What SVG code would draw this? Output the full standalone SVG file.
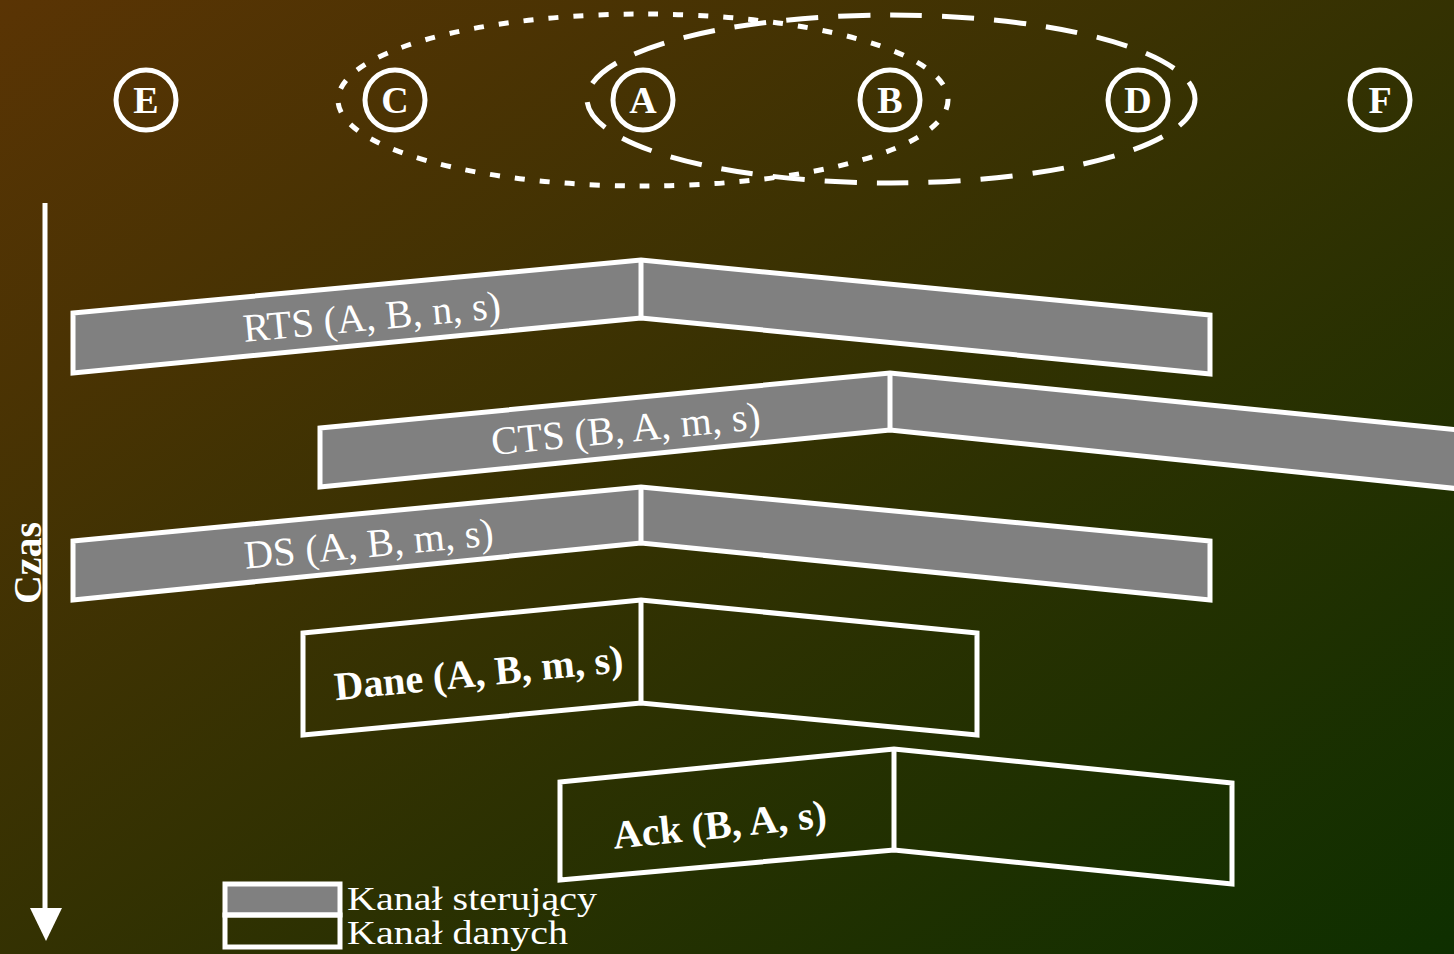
<svg xmlns="http://www.w3.org/2000/svg" width="1454" height="954" viewBox="0 0 1454 954">
  <defs>
    <linearGradient id="bg" x1="0" y1="0" x2="1" y2="1">
      <stop offset="0" stop-color="#5a3404"/>
      <stop offset="1" stop-color="#0e2f00"/>
    </linearGradient>
  </defs>
  <style>
    .node circle { fill: none; stroke: #fff; stroke-width: 5; }
    .node text { font-family: "Liberation Serif", "Times New Roman", serif; font-weight: bold; font-size: 38px; fill: #fff; text-anchor: middle; }
    .range { fill: none; stroke: #fff; stroke-width: 5; }
    .ctrl { fill: #808080; stroke: #fff; stroke-width: 5; stroke-linejoin: miter; }
    .data { fill: none; stroke: #fff; stroke-width: 5; stroke-linejoin: miter; }
    .div { stroke: #fff; stroke-width: 5; }
    .lbl { font-family: "Liberation Serif", "Times New Roman", serif; font-size: 40px; fill: #fff; text-anchor: middle; }
    .lblb { font-family: "Liberation Serif", "Times New Roman", serif; font-weight: bold; font-size: 40px; fill: #fff; text-anchor: middle; }
    .leg { font-family: "Liberation Serif", "Times New Roman", serif; font-size: 34px; fill: #fff; }
  </style>

  <rect width="1454" height="954" fill="url(#bg)"/>

  <!-- transmission ranges -->
  <g id="ranges">
    <ellipse class="range" cx="643" cy="100" rx="305" ry="86" stroke-dasharray="10 15"/>
    <ellipse class="range" cx="891" cy="99" rx="304" ry="84" stroke-dasharray="32 20"/>
  </g>

  <!-- stations -->
  <g id="node-E" class="node"><circle cx="146" cy="100" r="30"/><text x="146" y="113">E</text></g>
  <g id="node-C" class="node"><circle cx="395" cy="100" r="30"/><text x="395" y="113">C</text></g>
  <g id="node-A" class="node"><circle cx="643" cy="100" r="30"/><text x="643" y="113">A</text></g>
  <g id="node-B" class="node"><circle cx="890" cy="100" r="30"/><text x="890" y="113">B</text></g>
  <g id="node-D" class="node"><circle cx="1138" cy="100" r="30"/><text x="1138" y="113">D</text></g>
  <g id="node-F" class="node"><circle cx="1380" cy="100" r="30"/><text x="1380" y="113">F</text></g>

  <!-- time axis -->
  <g id="connectors">
    <line x1="45" y1="203" x2="45" y2="912" stroke="#fff" stroke-width="5"/>
    <polygon points="30,908 62,908 46,941" fill="#fff"/>
  </g>
  <text transform="translate(41,563) rotate(-90)" class="lblb" font-size="36">Czas</text>

  <!-- RTS -->
  <g id="frame-rts">
    <path class="ctrl" d="M73,313 L641,260 L1210,315 L1210,374 L641,318 L73,373 Z"/>
    <line class="div" x1="641" y1="260" x2="641" y2="318"/>
    <text class="lbl" transform="translate(373,330) rotate(-5.3)">RTS (A, B, n, s)</text>
  </g>

  <!-- CTS -->
  <g id="frame-cts">
    <path class="ctrl" d="M320,428 L890,373 L1460,430 L1460,489 L890,430 L320,487 Z"/>
    <line class="div" x1="890" y1="373" x2="890" y2="430"/>
    <text class="lbl" transform="translate(627,442) rotate(-5.5)">CTS (B, A, m, s)</text>
  </g>

  <!-- DS -->
  <g id="frame-ds">
    <path class="ctrl" d="M73,541 L641,487 L1210,541 L1210,600 L641,543 L73,600 Z"/>
    <line class="div" x1="641" y1="487" x2="641" y2="543"/>
    <text class="lbl" transform="translate(370,557) rotate(-5.4)">DS (A, B, m, s)</text>
  </g>

  <!-- Data -->
  <g id="frame-dane">
    <path class="data" d="M303,633 L641,600 L977,633 L977,735 L641,703 L303,735 Z"/>
    <line class="div" x1="641" y1="600" x2="641" y2="703"/>
    <text class="lblb" transform="translate(480,686) rotate(-5.6)">Dane (A, B, m, s)</text>
  </g>

  <!-- Ack -->
  <g id="frame-ack">
    <path class="data" d="M560,782 L894,749 L1232,783 L1232,884 L894,850 L560,880 Z"/>
    <line class="div" x1="894" y1="749" x2="894" y2="850"/>
    <text class="lblb" transform="translate(721,838) rotate(-5.8)">Ack (B, A, s)</text>
  </g>

  <!-- legend -->
  <g id="legend">
    <rect x="225" y="884" width="115" height="31" fill="#808080" stroke="#fff" stroke-width="5"/>
    <rect x="225" y="915" width="115" height="32" fill="none" stroke="#fff" stroke-width="5"/>
    <text class="leg" x="347" y="910" textLength="250" lengthAdjust="spacingAndGlyphs">Kanał sterujący</text>
    <text class="leg" x="347" y="944" textLength="221" lengthAdjust="spacingAndGlyphs">Kanał danych</text>
  </g>
</svg>
